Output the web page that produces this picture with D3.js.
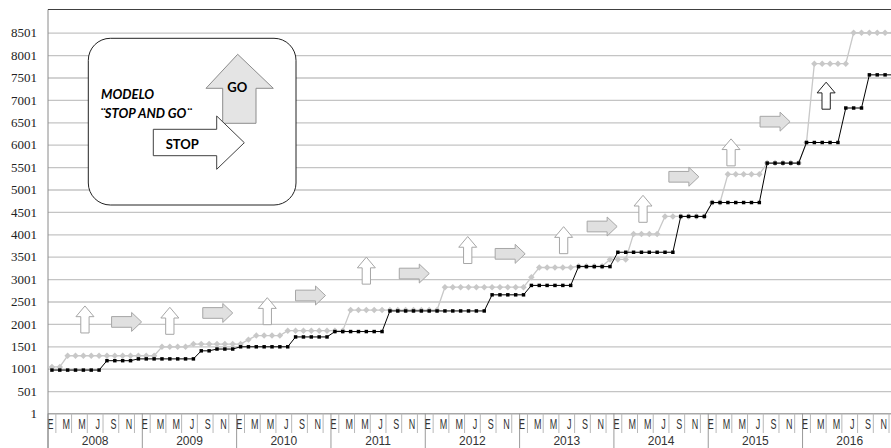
<!DOCTYPE html>
<html>
<head>
<meta charset="utf-8">
<script src="https://cdn.jsdelivr.net/npm/d3@7"></script>
<style>
  body { margin: 0; background: #fff; }
  svg { display: block; }
</style>
</head>
<body>
<script>

var years = ["2008", "2009", "2010", "2011", "2012", "2013", "2014", "2015", "2016"];
var monthLetters = ["E", "F", "M", "A", "M", "J", "J", "A", "S", "O", "N", "D"];
var yTicks = [1, 501, 1001, 1501, 2001, 2501, 3001, 3501, 4001, 4501, 5001, 5501, 6001, 6501, 7001, 7501, 8001, 8501];

// serie gris (rombos), un valor por mes 2008-2016
var serieGris = [
  1040, 1040, 1290, 1290, 1290, 1290, 1290, 1290, 1290, 1290, 1290, 1290,
  1290, 1290, 1490, 1490, 1490, 1490, 1550, 1550, 1550, 1550, 1550, 1550,
  1550, 1650, 1740, 1740, 1740, 1740, 1850, 1850, 1850, 1850, 1850, 1850,
  1850, 1850, 2310, 2310, 2310, 2310, 2310, 2310, 2310, 2310, 2310, 2310,
  2310, 2310, 2820, 2820, 2820, 2820, 2820, 2820, 2820, 2820, 2820, 2820,
  2820, 3040, 3260, 3260, 3260, 3260, 3260, 3290, 3290, 3290, 3290, 3440,
  3440, 3440, 4010, 4010, 4010, 4010, 4400, 4400, 4400, 4400, 4400, 4400,
  4710, 4710, 5340, 5340, 5340, 5340, 5340, 5590, 5590, 5590, 5590, 5590,
  6050, 7810, 7810, 7810, 7810, 7810, 8500, 8500, 8500, 8500, 8500, 8500
];

// serie negra (cuadrados)
var serieNegra = [
  970, 970, 970, 970, 970, 970, 970, 1180, 1180, 1180, 1180, 1220,
  1220, 1220, 1220, 1220, 1220, 1220, 1220, 1400, 1400, 1440, 1440, 1440,
  1490, 1490, 1490, 1490, 1490, 1490, 1490, 1710, 1710, 1710, 1710, 1710,
  1830, 1830, 1830, 1830, 1830, 1830, 1830, 2290, 2290, 2290, 2290, 2290,
  2290, 2290, 2290, 2290, 2290, 2290, 2290, 2290, 2650, 2650, 2650, 2650,
  2650, 2860, 2860, 2860, 2860, 2860, 2860, 3280, 3280, 3280, 3280, 3280,
  3600, 3600, 3600, 3600, 3600, 3600, 3600, 3600, 4400, 4400, 4400, 4400,
  4710, 4710, 4710, 4710, 4710, 4710, 4710, 5590, 5590, 5590, 5590, 5590,
  6050, 6050, 6050, 6050, 6050, 6820, 6820, 6820, 7560, 7560, 7560, 7560
];

// flechas: [mes, valor]
var flechasGo = [[4.2, 2100], [15.0, 2070], [27.4, 2285], [40.0, 3190], [52.9, 3650], [65.1, 3870], [75.2, 4570], [86.4, 5830]];
var flechasStop = [[9.5, 2045], [21.1, 2245], [32.9, 2635], [46.1, 3125], [58.3, 3565], [70.0, 4175], [80.4, 5285], [92.0, 6515]];
var flechaGoNegra = [[98.5, 7095]];

var width = 891,
    height = 448;

var left = 48,
    monthW = 7.86,
    nMonths = years.length * 12;

let svg = d3.select("body").append("svg")
    .attr("width", width)
    .attr("height", height);

var xPos = d3.scaleLinear()
    .domain([0, nMonths])
    .range([left, left + nMonths * monthW]);

var y = d3.scaleLinear()
    .domain([1, 9001])
    .range([413.5, 10.3]);

// rejilla + etiquetas eje Y
var yAxis = svg.append("g")
    .attr("transform", "translate(" + left + ",0)")
    .call(d3.axisLeft(y).tickValues(yTicks).tickSize(-(width - left)).tickPadding(11).tickFormat(d3.format("d")));
yAxis.select(".domain").remove();
yAxis.selectAll(".tick line").attr("stroke", "#c4c4c4").attr("stroke-width", 1.3);
yAxis.selectAll(".tick text")
    .style("font-family", "'Liberation Serif', 'DejaVu Serif', serif")
    .style("font-size", "13px")
    .attr("fill", "#222");

// eje X
svg.append("line")
    .attr("x1", left).attr("x2", width)
    .attr("y1", y(1)).attr("y2", y(1))
    .attr("stroke", "#a8a8a8");

var oddMonths = d3.range(nMonths).filter(function(i) { return i % 2 == 1; });
svg.selectAll(".mtick")
    .data(oddMonths)
    .enter()
    .append("line")
    .attr("x1", function(i) { return xPos(i); })
    .attr("x2", function(i) { return xPos(i); })
    .attr("y1", y(1))
    .attr("y2", 433)
    .attr("stroke", "#b8b8b8");

svg.selectAll(".ytick")
    .data(years)
    .enter()
    .append("line")
    .attr("x1", function(d, i) { return xPos(i * 12); })
    .attr("x2", function(d, i) { return xPos(i * 12); })
    .attr("y1", y(1))
    .attr("y2", height)
    .attr("stroke", "#9a9a9a");

var evenMonths = d3.range(nMonths).filter(function(i) { return i % 2 == 0; });
svg.selectAll(".mlabel")
    .data(evenMonths)
    .enter()
    .append("text")
    .attr("transform", function(i) { return "translate(" + (xPos(i) + 2.5) + ",429) scale(0.6,1)"; })
    .attr("text-anchor", "middle")
    .attr("font-family", "'Liberation Sans', Arial, sans-serif")
    .attr("font-size", 15)
    .attr("fill", "#333")
    .text(function(i) { return monthLetters[i % 12]; });

svg.selectAll(".ylabel")
    .data(years)
    .enter()
    .append("text")
    .attr("x", function(d, i) { return xPos(i * 12 + 6); })
    .attr("y", 445)
    .attr("text-anchor", "middle")
    .attr("font-family", "'Liberation Sans', Arial, sans-serif")
    .attr("font-size", 12)
    .attr("fill", "#333")
    .text(function(d) { return d; });

// bordes
svg.append("line")
    .attr("x1", left).attr("x2", left)
    .attr("y1", 9.5).attr("y2", height)
    .attr("stroke", "#8a8a8a");
svg.append("line")
    .attr("x1", left).attr("x2", width)
    .attr("y1", 9.5).attr("y2", 9.5)
    .attr("stroke", "#404040");

// flechas pequeñas
function upArrow(w, h, sw, hh) {
  return "M0," + (-h / 2) + "L" + (w / 2) + "," + (-h / 2 + hh) + "L" + (sw / 2) + "," + (-h / 2 + hh) +
    "L" + (sw / 2) + "," + (h / 2) + "L" + (-sw / 2) + "," + (h / 2) + "L" + (-sw / 2) + "," + (-h / 2 + hh) +
    "L" + (-w / 2) + "," + (-h / 2 + hh) + "Z";
}
function rightArrow(w, h, sh, hl) {
  return "M" + (-w / 2) + "," + (-sh / 2) + "L" + (w / 2 - hl) + "," + (-sh / 2) + "L" + (w / 2 - hl) + "," + (-h / 2) +
    "L" + (w / 2) + ",0L" + (w / 2 - hl) + "," + (h / 2) + "L" + (w / 2 - hl) + "," + (sh / 2) +
    "L" + (-w / 2) + "," + (sh / 2) + "Z";
}

svg.selectAll(".go")
    .data(flechasGo)
    .enter()
    .append("path")
    .attr("d", upArrow(18, 27, 8.3, 10.7))
    .attr("transform", function(d) { return "translate(" + xPos(d[0] + 0.5) + "," + y(d[1]) + ")"; })
    .attr("fill", "#fff")
    .attr("stroke", "#a6a6a6");

svg.selectAll(".stop")
    .data(flechasStop)
    .enter()
    .append("path")
    .attr("d", rightArrow(30, 19, 10.7, 10))
    .attr("transform", function(d) { return "translate(" + xPos(d[0] + 0.5) + "," + y(d[1]) + ")"; })
    .attr("fill", "#e0e0e0")
    .attr("stroke", "#a6a6a6");

svg.selectAll(".gonegra")
    .data(flechaGoNegra)
    .enter()
    .append("path")
    .attr("d", upArrow(18, 27, 8.3, 10.7))
    .attr("transform", function(d) { return "translate(" + xPos(d[0] + 0.5) + "," + y(d[1]) + ")"; })
    .attr("fill", "#fff")
    .attr("stroke", "#222");

// series
var line = d3.line()
    .x(function(d, i) { return xPos(i + 0.5); })
    .y(function(d) { return y(d); });

svg.append("path")
    .datum(serieGris)
    .attr("d", line)
    .attr("fill", "none")
    .attr("stroke", "#c8c8c8")
    .attr("stroke-width", 1.3);

svg.selectAll(".rombo")
    .data(serieGris)
    .enter()
    .append("path")
    .attr("d", d3.symbol(d3.symbolSquare, 21))
    .attr("transform", function(d, i) { return "translate(" + xPos(i + 0.5) + "," + y(d) + ") rotate(45)"; })
    .attr("fill", "#c8c8c8");

svg.append("path")
    .datum(serieNegra)
    .attr("d", line)
    .attr("fill", "none")
    .attr("stroke", "#000")
    .attr("stroke-width", 1);

svg.selectAll(".cuadro")
    .data(serieNegra)
    .enter()
    .append("path")
    .attr("d", d3.symbol(d3.symbolSquare, 12))
    .attr("transform", function(d, i) { return "translate(" + xPos(i + 0.5) + "," + y(d) + ")"; })
    .attr("fill", "#000");

// recuadro "stop and go"
var box = svg.append("g").attr("transform", "translate(88.3,38.3)");
box.append("rect")
    .attr("width", 207.7)
    .attr("height", 166.7)
    .attr("rx", 22)
    .attr("fill", "#fff")
    .attr("stroke", "#222");

box.append("text")
    .attr("x", 12.7).attr("y", 60.7)
    .attr("font-family", "Lato, 'Open Sans', sans-serif")
    .attr("font-weight", "bold")
    .attr("font-style", "italic")
    .attr("font-size", 13)
    .text("MODELO");
box.append("text")
    .attr("x", 11.7).attr("y", 80)
    .attr("font-family", "Lato, 'Open Sans', sans-serif")
    .attr("font-weight", "bold")
    .attr("font-style", "italic")
    .attr("font-size", 13)
    .text("¨STOP AND GO¨");

// GO
box.append("path")
    .attr("d", "M149.4,16L185,50L167.7,50L167.7,85L134.4,85L134.4,50L117.7,50Z")
    .attr("fill", "#e4e4e4")
    .attr("stroke", "#8c8c8c");
box.append("text")
    .attr("x", 149).attr("y", 53.5)
    .attr("text-anchor", "middle")
    .attr("font-family", "Lato, 'Open Sans', sans-serif")
    .attr("font-weight", "bold")
    .attr("font-size", 13)
    .text("GO");

// STOP
box.append("path")
    .attr("d", "M65,91L128.4,91L128.4,77.7L156,104.4L128.4,131L128.4,117.4L65,117.4Z")
    .attr("fill", "#fff")
    .attr("stroke", "#404040");
box.append("text")
    .attr("x", 77.4).attr("y", 110.7)
    .attr("font-family", "Lato, 'Open Sans', sans-serif")
    .attr("font-weight", "bold")
    .attr("font-style", "italic")
    .attr("font-size", 13)
    .attr("font-style", "normal")
    .text("STOP");

</script>
</body>
</html>
